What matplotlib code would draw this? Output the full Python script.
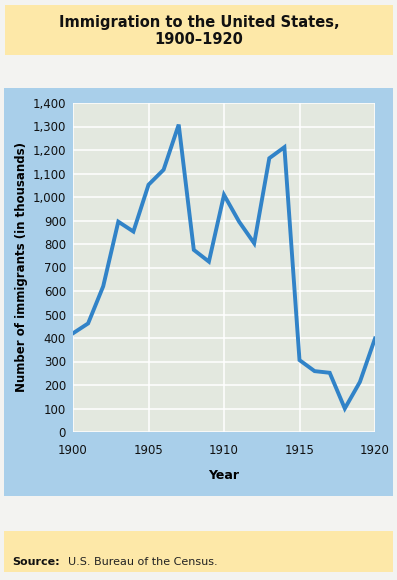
import matplotlib
matplotlib.use("Agg")
import matplotlib.pyplot as plt
from matplotlib.patches import Rectangle

years = list(range(1900, 1921))
immigrants = [420, 462, 620, 895, 853, 1052, 1116, 1308, 775, 725, 1009,
              895, 803, 1165, 1212, 306, 259, 252, 100, 213, 398]
y_ticks = list(range(0, 1401, 100))
y_tick_labels = [f"{v:,}" for v in y_ticks]
x_ticks = [1900, 1905, 1910, 1915, 1920]

title = "Immigration to the United States,\n1900\u20131920"
y_label = "Number of immigrants (in thousands)"
x_label = "Year"

W, H = 397, 580
fig = plt.figure(figsize=(W / 100, H / 100), dpi=100)
fig.patch.set_facecolor("#f3f3f1")

def band(x0, y0, x1, y1, color):
    fig.patches.append(Rectangle((x0 / W, 1 - y1 / H), (x1 - x0) / W, (y1 - y0) / H,
                                 transform=fig.transFigure, facecolor=color,
                                 edgecolor="none", zorder=-10))

band(5, 5, 393, 55, "#fde8a8")
band(4, 88, 393, 496, "#a9cfea")
band(4, 531, 393, 572, "#fde8a8")

fig.text(199 / W, 1 - 31 / H, title, ha="center", va="center", fontsize=10.5,
         fontweight="bold", family="DejaVu Sans", linespacing=1.25, color="#111111")

ax = fig.add_axes([73 / W, 1 - 432 / H, (375 - 73) / W, (432 - 103) / H])
ax.set_zorder(5)
ax.set_facecolor("#e3e8df")
ax.plot(years, immigrants, color="#3183c8", lw=2.8, solid_joinstyle="miter", zorder=3)
ax.set_xlim(1900, 1920)
ax.set_ylim(0, 1400)
ax.set_yticks(y_ticks)
ax.set_yticklabels(y_tick_labels)
ax.set_xticks(x_ticks)
ax.grid(True, color="white", lw=1.1)
ax.set_axisbelow(True)
for s in ax.spines.values():
    s.set_visible(False)
ax.tick_params(length=0, labelsize=8.5, colors="#111111", pad=5)
ax.tick_params(axis="x", pad=9)
ax.set_xlabel(x_label, fontsize=9, fontweight="bold", labelpad=8)
ax.set_ylabel(y_label, fontsize=8.5, fontweight="bold", labelpad=3)

fig.text(12 / W, 1 - 562 / H, "Source:", fontsize=8, fontweight="bold",
         ha="left", va="center", color="#111111")
fig.text(68 / W, 1 - 562 / H, "U.S. Bureau of the Census.", fontsize=8,
         ha="left", va="center", color="#222222")

fig.savefig("out.png", dpi=100, facecolor=fig.get_facecolor())
